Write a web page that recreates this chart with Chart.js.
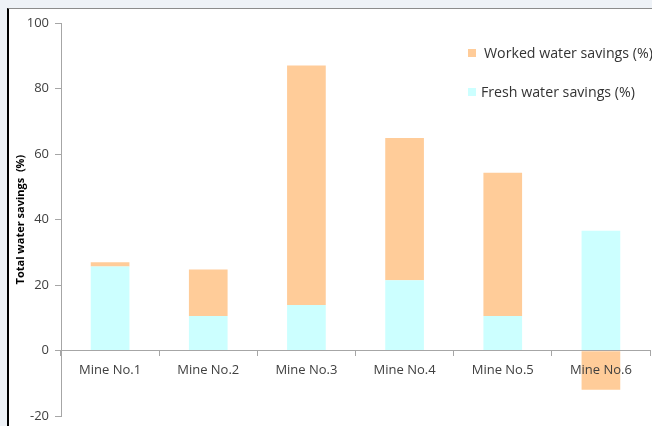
<!DOCTYPE html>
<html>
<head>
<meta charset="utf-8">
<script src="https://cdn.jsdelivr.net/npm/chart.js@4"></script>
<style>
    html, body { margin: 0; padding: 0; }
    body { width: 652px; height: 426px; background: #eef2f7; position: relative; overflow: hidden; font-family: "Open Sans", sans-serif; }
    #frame { position: absolute; left: 7px; top: 8px; width: 645px; height: 418px; background: #fff; border-top: 1px solid #8c8c8c; border-left: 2px solid #000; overflow: hidden; }
    #chart { position: absolute; left: 0; top: 0; }
    #legend { position: absolute; left: 459px; top: 34px; }
    .item { position: absolute; white-space: nowrap; font-size: 14.2px; color: #333; line-height: 20px; }
    .box { display: inline-block; width: 8px; height: 8px; vertical-align: middle; margin-right: 5px; position: relative; top: -1px; }
</style>
</head>
<body>
<div id="frame">
    <canvas id="chart" width="643" height="421"></canvas>
    <div id="legend"></div>
</div>
<script>
var mines = ["Mine No.1", "Mine No.2", "Mine No.3", "Mine No.4", "Mine No.5", "Mine No.6"];
var freshSavings = [25.7, 10.6, 13.9, 21.5, 10.6, 36.6];
var workedSavings = [1.3, 14.2, 73.1, 43.4, 43.7, -11.9];
var yTicks = [-20, 0, 20, 40, 60, 80, 100];

var freshColor = "#ccffff";
var workedColor = "#ffcc99";
var axisColor = "#a6a6a6";
var textColor = "#404040";

var datasets = [
    { label: "Fresh water savings (%)", data: freshSavings, backgroundColor: freshColor },
    { label: "Worked water savings (%)", data: workedSavings, backgroundColor: workedColor }
];

var ctx = document.getElementById("chart").getContext("2d");
var chart = new Chart(ctx, {
    type: 'bar',
    data: { labels: mines, datasets: datasets },
    options: {
        responsive: false,
        animation: false,
        datasets: { bar: { categoryPercentage: 1.0, barPercentage: 0.394 } },
        layout: { padding: { top: 14, right: 2, bottom: 7, left: 0 } },
        plugins: { legend: { display: false }, tooltip: { enabled: false } },
        scales: {
            x: {
                stacked: true,
                position: { y: 0 },
                border: { color: axisColor, width: 1, z: 1 },
                grid: { offset: true, drawOnChartArea: false, drawTicks: true, tickLength: 5, color: axisColor, z: 1 },
                ticks: { autoSkip: false, maxRotation: 0, padding: 7, z: 1, color: textColor, font: { family: "Open Sans", size: 13 } },
                afterFit: function (scale) { scale.height = 0; }
            },
            y: {
                stacked: true,
                min: yTicks[0],
                max: yTicks[yTicks.length - 1],
                afterBuildTicks: function (scale) {
                    scale.ticks = yTicks.map(function (v) { return { value: v }; });
                },
                border: { color: axisColor, width: 1 },
                grid: { drawOnChartArea: false, drawTicks: true, tickLength: 6, color: axisColor },
                ticks: { padding: 6, color: textColor, font: { family: "Open Sans", size: 13 } },
                title: {
                    display: true,
                    text: "Total water savings  (%)",
                    color: "#000",
                    padding: { top: 5, bottom: 0 },
                    font: { family: "Open Sans", size: 11, weight: "bold" }
                },
                afterFit: function (scale) { scale.width = 52; }
            }
        }
    }
});

// legend, top entry is the upper stack
var legend = document.getElementById("legend");
var tops = [0, 39];
datasets.slice().reverse().forEach(function (ds, i) {
    var item = document.createElement("div");
    item.className = "item";
    item.style.top = tops[i] + "px";
    var box = document.createElement("span");
    box.className = "box";
    box.style.background = ds.backgroundColor;
    if (i == 0) box.style.marginRight = "8px";
    item.appendChild(box);
    item.appendChild(document.createTextNode(ds.label));
    legend.appendChild(item);
});
</script>
</body>
</html>
